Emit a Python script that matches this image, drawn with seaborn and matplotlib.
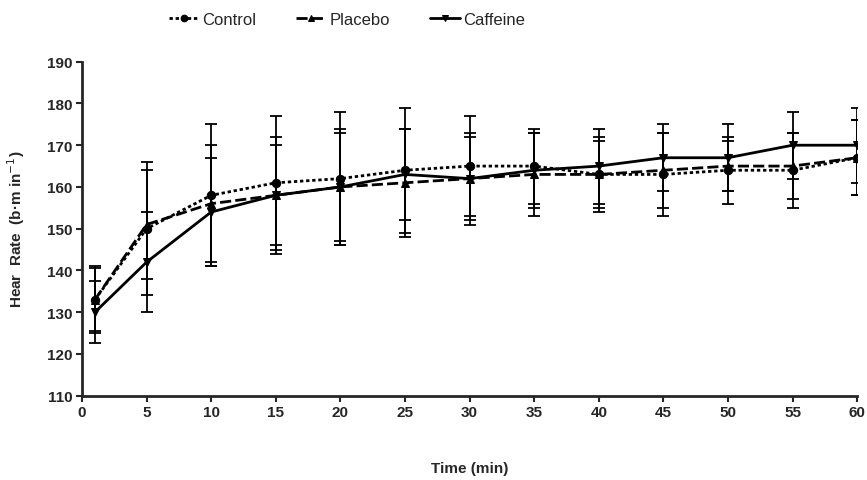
import numpy as np
import pandas as pd
import matplotlib
matplotlib.use("Agg")
import matplotlib.pyplot as plt
import seaborn as sns

# data
times = [1, 5, 10, 15, 20, 25, 30, 35, 40, 45, 50, 55, 60]
groups = ["Control", "Placebo", "Caffeine"]
control = [133, 150, 158, 161, 162, 164, 165, 165, 163, 163, 164, 164, 167]
placebo = [133, 151, 156, 158, 160, 161, 162, 163, 163, 164, 165, 165, 167]
caffeine = [130, 142, 154, 158, 160, 163, 162, 164, 165, 167, 167, 170, 170]
control_sd = [8, 16, 17, 16, 16, 15, 12, 9, 9, 10, 8, 9, 9]
placebo_sd = [7.5, 13, 14, 14, 14, 13, 11, 10, 8, 9, 6, 8, 9]
caffeine_sd = [7.5, 12, 13, 12, 13, 11, 10, 9, 9, 8, 8, 8, 9]

sns.set_theme(style="ticks")
plt.rcParams['font.family'] = ['Liberation Sans Narrow', 'Liberation Sans', 'DejaVu Sans']

df = pd.DataFrame({
    "time": times * 3,
    "hr": control + placebo + caffeine,
    "group": np.repeat(groups, len(times)),
})
sds = {"Control": control_sd, "Placebo": placebo_sd, "Caffeine": caffeine_sd}
means = {"Control": control, "Placebo": placebo, "Caffeine": caffeine}

fig = plt.figure(figsize=(8.67, 4.81), dpi=100)
ax = fig.add_axes([0.0946, 0.1753, 0.894, 0.6943])

for g in groups:
    ax.errorbar(times, means[g], yerr=sds[g], fmt='none', ecolor='black',
                elinewidth=1.3, capsize=4, capthick=1.3, zorder=2)

sns.lineplot(data=df, x="time", y="hr", hue="group", style="group",
             hue_order=groups, style_order=groups,
             palette=["black"] * 3,
             markers={"Control": "o", "Placebo": "^", "Caffeine": "v"},
             dashes={"Control": (1.2, 1.0), "Placebo": (4, 1.5), "Caffeine": ""},
             markersize=6, linewidth=2, markeredgecolor="black",
             errorbar=None, ax=ax, zorder=3)

ax.set_xlim(0, 60)
ax.set_ylim(110, 190)
ax.set_xticks(range(0, 61, 5))
ax.set_yticks(range(110, 191, 10))
sns.despine(ax=ax)
for s in ["left", "bottom"]:
    ax.spines[s].set_linewidth(2)
ax.tick_params(axis="both", width=1.5, length=4, labelsize=11, pad=3)
for lab in ax.get_xticklabels() + ax.get_yticklabels():
    lab.set_fontweight("bold")

ax.set_xlabel("Time (min)", fontsize=11, fontweight="bold", labelpad=30)
ax.set_ylabel("Hear  Rate  (b·m in$^{-1}$)", fontsize=11, fontweight="bold", labelpad=14)

handles, labels = ax.get_legend_handles_labels()
ax.legend_.remove()
fig.legend(handles, labels, loc="upper center", bbox_to_anchor=(0.40, 1.005),
           ncol=3, frameon=False, fontsize=12, handlelength=1.8,
           columnspacing=2.4, handletextpad=0.2, markerscale=0.8)

fig.savefig("out.png", dpi=100)
